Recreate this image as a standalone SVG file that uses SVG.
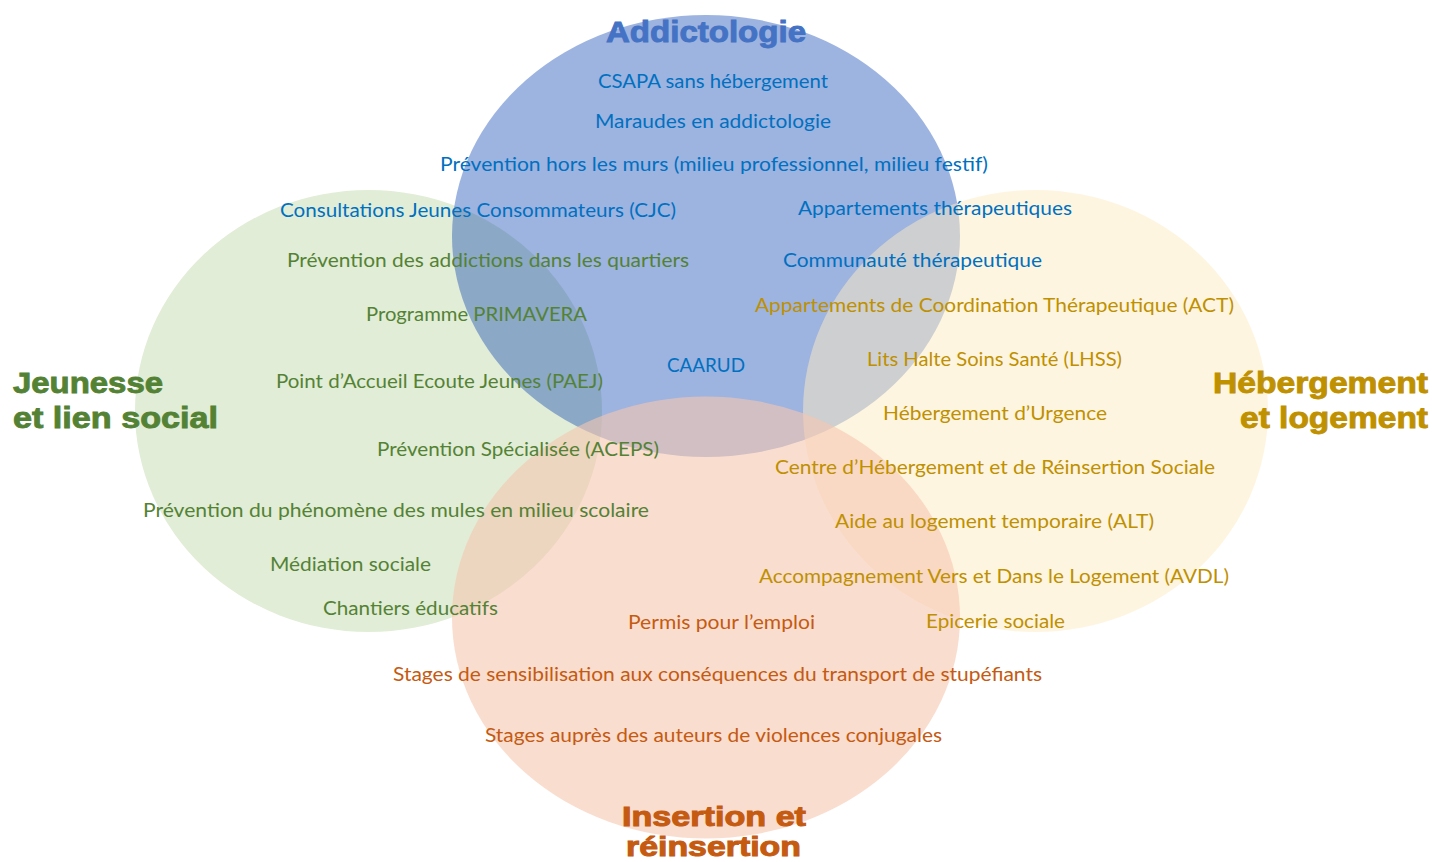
<svg xmlns="http://www.w3.org/2000/svg" width="1432" height="862" viewBox="0 0 1432 862">
<style>
.it{font-family:Lato,"Open Sans","Liberation Sans",sans-serif;font-size:19.5px}
.tt{font-family:"Liberation Sans",Arial,sans-serif;font-weight:bold;font-size:30px;stroke-width:0.9px}
.ts{font-size:27px;stroke-width:1px}
.b{fill:#0070C0}
.g{fill:#548235}
.y{fill:#BF9000}
.o{fill:#C55A11}
</style>
<rect width="1432" height="862" fill="#FFFFFF"/>
<g id="circles">
<ellipse id="c-jeunesse" cx="368.5" cy="411" rx="233.5" ry="221" fill="#E1EDD6"/>
<ellipse id="c-addicto" cx="706" cy="236" rx="254" ry="221" fill="rgb(10,65,177)" fill-opacity="0.4"/>
<ellipse id="c-hebergement" cx="1035.5" cy="411" rx="232.5" ry="221" fill="rgb(253,235,193)" fill-opacity="0.5"/>
<ellipse id="c-insertion" cx="706" cy="617.5" rx="254" ry="221" fill="rgb(245,198,175)" fill-opacity="0.6"/>
</g>
<g id="node-addictologie">
<text class="tt" x="606" y="42" textLength="200" lengthAdjust="spacingAndGlyphs" fill="#4472C4" stroke="#4472C4">Addictologie</text>
<text class="it b" x="598" y="88" textLength="230" lengthAdjust="spacingAndGlyphs">CSAPA sans hébergement</text>
<text class="it b" x="595" y="128" textLength="236" lengthAdjust="spacingAndGlyphs">Maraudes en addictologie</text>
<text class="it b" x="440" y="171" textLength="548" lengthAdjust="spacingAndGlyphs">Prévention hors les murs (milieu professionnel, milieu festif)</text>
<text class="it b" x="280" y="217" textLength="396" lengthAdjust="spacingAndGlyphs">Consultations Jeunes Consommateurs (CJC)</text>
<text class="it b" x="798" y="215" textLength="274" lengthAdjust="spacingAndGlyphs">Appartements thérapeutiques</text>
<text class="it b" x="783" y="267" textLength="259" lengthAdjust="spacingAndGlyphs">Communauté thérapeutique</text>
<text class="it b" x="667" y="372" textLength="78" lengthAdjust="spacingAndGlyphs">CAARUD</text>
</g>
<g id="node-jeunesse">
<text class="tt" x="13" y="393" textLength="150" lengthAdjust="spacingAndGlyphs" fill="#548235" stroke="#548235">Jeunesse</text>
<text class="tt" x="13" y="428" textLength="205" lengthAdjust="spacingAndGlyphs" fill="#548235" stroke="#548235">et lien social</text>
<text class="it g" x="287" y="267" textLength="402" lengthAdjust="spacingAndGlyphs">Prévention des addictions dans les quartiers</text>
<text class="it g" x="366" y="321" textLength="221" lengthAdjust="spacingAndGlyphs">Programme PRIMAVERA</text>
<text class="it g" x="276" y="388" textLength="327" lengthAdjust="spacingAndGlyphs">Point d’Accueil Ecoute Jeunes (PAEJ)</text>
<text class="it g" x="377" y="456" textLength="282" lengthAdjust="spacingAndGlyphs">Prévention Spécialisée (ACEPS)</text>
<text class="it g" x="143" y="517" textLength="506" lengthAdjust="spacingAndGlyphs">Prévention du phénomène des mules en milieu scolaire</text>
<text class="it g" x="270" y="571" textLength="161" lengthAdjust="spacingAndGlyphs">Médiation sociale</text>
<text class="it g" x="323" y="615" textLength="175" lengthAdjust="spacingAndGlyphs">Chantiers éducatifs</text>
</g>
<g id="node-hebergement">
<text class="tt" x="1213" y="393" textLength="215" lengthAdjust="spacingAndGlyphs" fill="#BF9000" stroke="#BF9000">Hébergement</text>
<text class="tt" x="1240" y="428" textLength="188" lengthAdjust="spacingAndGlyphs" fill="#BF9000" stroke="#BF9000">et logement</text>
<text class="it y" x="755" y="312" textLength="479" lengthAdjust="spacingAndGlyphs">Appartements de Coordination Thérapeutique (ACT)</text>
<text class="it y" x="867" y="366" textLength="255" lengthAdjust="spacingAndGlyphs">Lits Halte Soins Santé (LHSS)</text>
<text class="it y" x="883" y="420" textLength="224" lengthAdjust="spacingAndGlyphs">Hébergement d’Urgence</text>
<text class="it y" x="775" y="474" textLength="440" lengthAdjust="spacingAndGlyphs">Centre d’Hébergement et de Réinsertion Sociale</text>
<text class="it y" x="835" y="528" textLength="319" lengthAdjust="spacingAndGlyphs">Aide au logement temporaire (ALT)</text>
<text class="it y" x="759" y="583" textLength="470" lengthAdjust="spacingAndGlyphs">Accompagnement Vers et Dans le Logement (AVDL)</text>
<text class="it y" x="926" y="628" textLength="139" lengthAdjust="spacingAndGlyphs">Epicerie sociale</text>
</g>
<g id="node-insertion">
<text class="tt ts" x="622" y="826" textLength="184" lengthAdjust="spacingAndGlyphs" fill="#C55A11" stroke="#C55A11">Insertion et</text>
<text class="tt ts" x="626" y="856" textLength="175" lengthAdjust="spacingAndGlyphs" fill="#C55A11" stroke="#C55A11">réinsertion</text>
<text class="it o" x="628" y="629" textLength="187" lengthAdjust="spacingAndGlyphs">Permis pour l’emploi</text>
<text class="it o" x="393" y="681" textLength="649" lengthAdjust="spacingAndGlyphs">Stages de sensibilisation aux conséquences du transport de stupéfiants</text>
<text class="it o" x="485" y="742" textLength="457" lengthAdjust="spacingAndGlyphs">Stages auprès des auteurs de violences conjugales</text>
</g>
<g id="connectors"/>
</svg>
